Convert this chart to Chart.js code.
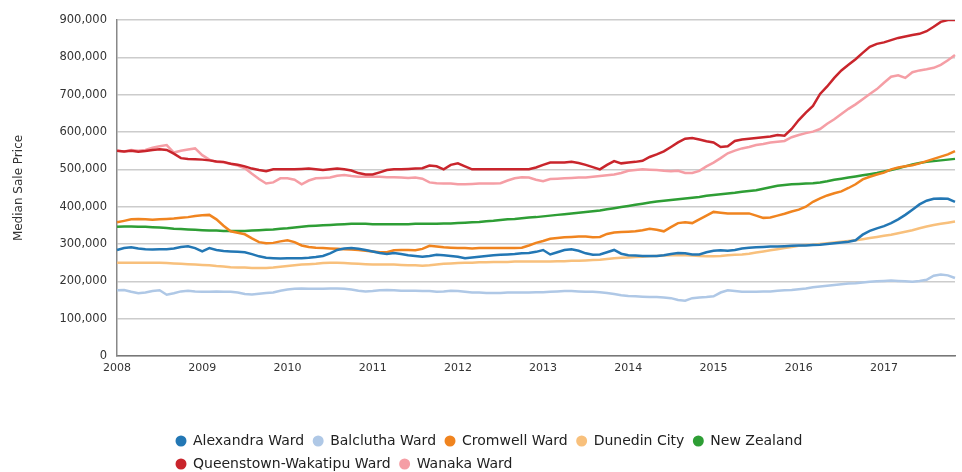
<!DOCTYPE html>
<html>
<head>
<meta charset="utf-8">
<script src="https://cdn.jsdelivr.net/npm/chart.js@4.4.1/dist/chart.umd.min.js"></script>
<style>
  html, body { margin: 0; padding: 0; background: #fff; }
  #wrap { width: 962px; height: 472px; position: relative; }
</style>
</head>
<body>
<div id="wrap"><canvas id="c"></canvas></div>
<script>
// monthly medians, Jan 2008 - Nov 2017, in $000 (one row per year)
var years = [2008, 2009, 2010, 2011, 2012, 2013, 2014, 2015, 2016, 2017];

var alexandra = [
  284, 289, 291, 288, 286, 285, 286, 286, 288, 292, 294, 289,
  280, 289, 284, 281, 280, 279, 278, 273, 267, 263, 262, 261,
  262, 262, 262, 263, 265, 268, 275, 284, 288, 289, 287, 284,
  280, 276, 273, 276, 273, 270, 268, 266, 268, 271, 270, 268,
  266, 262, 264, 266, 268, 270, 271, 272, 273, 275, 276, 279,
  284, 272, 278, 284, 286, 282, 275, 271, 272, 278, 284, 274,
  270, 269, 268, 268, 268, 270, 273, 276, 275, 272, 272, 278,
  282, 283, 282, 284, 288, 290, 291, 292, 293, 293, 294, 295,
  296, 296, 297, 298, 300, 302, 304, 306, 310, 325, 335, 342,
  348, 356, 366, 378, 392, 406, 416, 421, 422, 421, 413
];
var balclutha = [
  176, 177, 172, 168, 170, 174, 176, 164, 168, 173, 175, 173,
  172, 172, 173, 172, 172, 170, 166, 165, 167, 169, 170, 175,
  178, 180, 181, 180, 180, 180, 181, 181, 180, 178, 175, 173,
  174, 176, 177, 176, 175, 175, 175, 174, 174, 172, 173, 175,
  174, 172, 170, 170, 169, 169, 169, 170, 170, 170, 170, 171,
  171, 172, 173, 174, 174, 173, 172, 172, 171, 169, 166, 163,
  161, 160, 159, 158, 158, 157, 155, 150, 148, 155, 157, 158,
  160, 170, 176, 174, 172, 172, 172, 173, 173, 175, 176, 177,
  179, 181, 184, 186, 188, 190, 192, 194, 195, 197, 199, 200,
  201, 202, 201, 200, 199, 201, 204, 215, 218, 216, 209
];
var cromwell = [
  358, 362, 366, 367, 366, 365, 366, 367, 368, 370, 372, 375,
  377, 378, 366, 349, 334, 330, 326, 315, 305, 302, 303, 307,
  310, 305, 296, 292, 290, 289, 288, 287, 286, 285, 284, 282,
  280, 278, 278, 283, 284, 284, 283, 287, 295, 293, 291, 290,
  289, 289, 288, 289, 289, 289, 289, 289, 289, 290, 296, 303,
  308, 314, 316, 318, 319, 320, 320, 318, 319, 327, 331, 332,
  333, 334, 337, 341, 338, 334, 345, 356, 358, 356, 366, 376,
  386, 384, 382, 382, 382, 382, 376, 370, 371, 376, 381, 387,
  392, 400, 413, 422, 430, 436, 441, 450, 460, 473, 480, 486,
  491, 500, 505, 508, 511, 516, 522, 528, 534, 540, 549
];
var dunedin = [
  250, 250, 250, 250, 250, 250, 250, 249, 248, 247, 246, 245,
  244, 243, 241, 240, 238, 237, 237, 236, 236, 236, 237, 239,
  241, 243, 245, 246, 247, 249, 250, 250, 249, 248, 247, 246,
  245, 245, 245, 245, 244, 243, 243, 242, 243, 245, 247, 248,
  249, 250, 250, 251, 251, 252, 252, 252, 253, 253, 253, 253,
  253, 253, 254, 254, 255, 255, 256, 257, 258, 260, 262, 263,
  264, 265, 266, 267, 268, 269, 270, 270, 270, 269, 268, 267,
  267, 268, 270, 271, 272, 274, 277, 280, 283, 286, 289, 292,
  295, 297, 298, 300, 302, 304, 306, 308, 310, 313, 316, 319,
  322, 325, 329, 333, 337, 342, 347, 351, 354, 357, 360
];
var newZealand = [
  346, 347, 347, 346, 346, 345, 344, 343, 341, 340, 339, 338,
  337, 336, 336, 335, 335, 335, 335, 336, 337, 338, 339, 341,
  342, 344, 346, 348, 349, 350, 351, 352, 353, 354, 354, 354,
  353, 353, 353, 353, 353, 353, 354, 354, 354, 354, 355, 355,
  356, 357, 358, 359, 361, 362, 364, 366, 367, 369, 371, 372,
  374, 376, 378, 380, 382, 384, 386, 388, 390, 393, 396, 399,
  402, 405, 408, 411, 414, 416, 418, 420, 422, 424, 426, 429,
  431, 433, 435, 437, 440, 442, 444, 448, 452, 456, 458, 460,
  461, 462, 463, 465, 468, 472, 475, 478, 481, 484, 487, 490,
  494, 498, 503, 508, 513, 517, 520, 522, 524, 526, 528
];
var queenstown = [
  550, 548, 550, 547, 549, 552, 554, 552, 542, 530, 528, 527,
  526, 524, 521, 520, 515, 512, 508, 502, 498, 495, 500, 500,
  500, 500, 501, 502, 500, 498, 500, 502, 500, 497, 490, 486,
  486, 492, 498, 500, 500, 501, 502, 503, 510, 508, 500, 512,
  516, 508, 500, 500, 500, 500, 500, 500, 500, 500, 500, 505,
  512, 518, 518, 518, 520, 517, 512, 506, 500, 512, 522, 516,
  518, 520, 523, 533, 540, 548, 560, 572, 582, 584, 580, 575,
  572, 560, 562, 576, 580, 582, 584, 586, 588, 592, 590, 608,
  632, 652, 670, 702, 722, 745, 765, 780, 795, 812, 828, 836,
  840, 846, 852, 856, 860, 863, 870, 882, 895, 900, 900
];
var wanaka = [
  550, 548, 552, 550, 552, 558, 562, 565, 545, 550, 553, 556,
  538, 526, 520, 518, 515, 510, 503, 488, 474, 462, 465, 476,
  476, 472, 460, 470, 476, 477, 478, 483, 485, 482, 480, 480,
  480, 480, 479, 479, 478, 477, 478, 475, 465, 463, 462, 462,
  460, 460, 461, 462, 462, 462, 463, 470, 476, 479, 478, 472,
  468, 474, 475, 476, 477, 478, 478, 480, 482, 484, 486, 490,
  496, 498, 500, 499, 498, 496, 495, 496, 490, 490, 496, 508,
  518, 530, 543, 550, 556, 560, 565, 568, 572, 574, 576, 586,
  592, 597, 601, 608, 622, 634, 648, 662, 674, 688, 702, 715,
  732, 748, 752, 745, 760, 765, 768, 772, 780, 792, 806
];

var seriesNames = ['Alexandra Ward', 'Balclutha Ward', 'Cromwell Ward', 'Dunedin City',
  'New Zealand', 'Queenstown-Wakatipu Ward', 'Wanaka Ward'];
var seriesColors = ['#2377b4', '#afc8e6', '#f0841f', '#f8c07c', '#2e9e35', '#c9252c', '#f59ea5'];
var seriesData = [alexandra, balclutha, cromwell, dunedin, newZealand, queenstown, wanaka];

var months = [];
years.forEach(function(y){
  for(var m = 1; m <= 12; m++){
    months.push(y + '-' + m);
  }
});
months = months.slice(0, alexandra.length);

var datasets = [];
for(var i = 0; i < seriesNames.length; i++){
  datasets.push({
    label: seriesNames[i],
    data: seriesData[i].map(function(v){ return v * 1000; }),
    borderColor: seriesColors[i],
    backgroundColor: seriesColors[i],
    borderWidth: 2.5,
    pointRadius: 0,
    tension: 0
  });
}

// push the legend rows across and down to where the original has them
var legendNudge = {
  id: 'legendNudge',
  afterLayout: function(chart){
    chart.legend.left += 167;
    chart.legend.top += 9;
  }
};

var axisFont = { family: 'DejaVu Sans', size: 11 };

new Chart(document.getElementById('c'), {
  type: 'line',
  data: { labels: months, datasets: datasets },
  plugins: [legendNudge],
  options: {
    responsive: true,
    maintainAspectRatio: false,
    animation: false,
    layout: { padding: { top: 20, right: 7, left: 0, bottom: 0 } },
    plugins: {
      tooltip: { enabled: false },
      legend: {
        position: 'bottom',
        align: 'start',
        labels: {
          usePointStyle: true,
          boxWidth: 10,
          boxHeight: 6,
          padding: 9,
          color: '#222',
          font: { family: 'DejaVu Sans', size: 14 }
        }
      }
    },
    scales: {
      x: {
        grid: { display: false, drawTicks: false },
        border: { display: true, color: '#777', width: 1.5 },
        ticks: {
          autoSkip: false,
          maxRotation: 0,
          padding: 6,
          color: '#333',
          font: axisFont,
          callback: function(value, index){
            return index % 12 === 0 ? this.getLabelForValue(value).split('-')[0] : '';
          }
        },
        afterFit: function(scale){ scale.height = 60; }
      },
      y: {
        min: 0,
        max: 900000,
        grid: { color: '#cccccc', lineWidth: 1.5, drawTicks: false },
        border: { display: true, color: '#888', width: 1.5 },
        ticks: {
          stepSize: 100000,
          padding: 10,
          color: '#333',
          font: { family: 'DejaVu Sans', size: 11.5 },
          callback: function(v){ return v.toLocaleString('en-US'); }
        },
        title: {
          display: true,
          text: 'Median Sale Price',
          color: '#333',
          font: { family: 'DejaVu Sans', size: 12 },
          padding: { top: 12, bottom: 0 }
        },
        afterFit: function(scale){ scale.width = 117; }
      }
    }
  }
});
</script>
</body>
</html>
